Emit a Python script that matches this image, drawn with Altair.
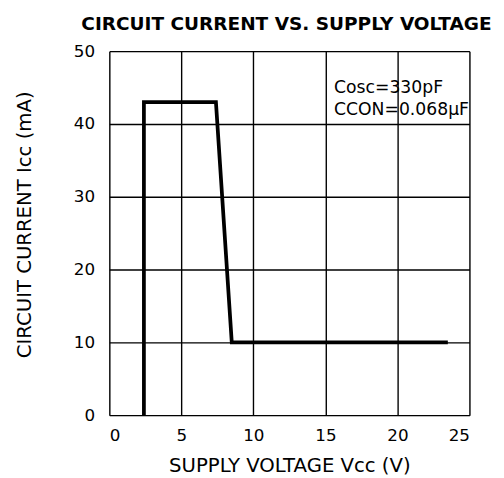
import altair as alt
import pandas as pd

# Curve: circuit current vs supply voltage
voltage = [2.4, 2.4, 7.4, 8.5, 23.5]
current = [0, 43, 43, 10, 10]

note_x = [15.6, 15.6]
note_y = [44.2, 41.2]
note_text = ["Cosc=330pF", "CCON=0.068\u03bcF"]

x_ticks = [0, 5, 10, 15, 20, 25]
y_ticks = [0, 10, 20, 30, 40, 50]

curve_df = pd.DataFrame({"v": voltage, "i": current, "order": list(range(len(voltage)))})
note_df = pd.DataFrame({"v": note_x, "i": note_y, "t": note_text})

FONT = "DejaVu Sans"

x_scale = alt.Scale(domain=[0, 25], nice=False, zero=False)
y_scale = alt.Scale(domain=[0, 50], nice=False, zero=False)

x_axis = alt.Axis(
    values=x_ticks, title="SUPPLY VOLTAGE Vcc (V)", grid=True, domain=False,
    ticks=False, tickSize=0, labelPadding=13, labelFontSize=17, labelFont=FONT,
    labelColor="black", titleFont=FONT, titleFontSize=20, titleFontWeight="normal",
    titleColor="black", titleBaseline="alphabetic", titleY=57, titleAnchor="middle",
    gridColor="black", gridWidth=1.4, gridOpacity=1,
)
y_axis = alt.Axis(
    values=y_ticks, title="CIRCUIT CURRENT Icc (mA)", grid=True, domain=False,
    ticks=False, tickSize=0, labelPadding=15, labelFontSize=17, labelFont=FONT,
    labelColor="black", titleFont=FONT, titleFontSize=20, titleFontWeight="normal",
    titleColor="black", titleAngle=-90, titleBaseline="alphabetic", titleAlign="center",
    titleX=-80, titleY=176, gridColor="black", gridWidth=1.4, gridOpacity=1,
)

line = alt.Chart(curve_df).mark_line(color="black", strokeWidth=3.8, strokeJoin="miter").encode(
    x=alt.X("v:Q", scale=x_scale, axis=x_axis),
    y=alt.Y("i:Q", scale=y_scale, axis=y_axis),
    order="order:Q",
)

notes = alt.Chart(note_df).mark_text(
    align="left", baseline="alphabetic", font=FONT, fontSize=17.5, color="black"
).encode(
    x=alt.X("v:Q", scale=x_scale),
    y=alt.Y("i:Q", scale=y_scale),
    text="t:N",
)

chart = alt.layer(line, notes).properties(
    width=366,
    height=370,
    autosize=alt.AutoSizeParams(type="none"),
    padding={"left": 103, "top": 40, "right": 27, "bottom": 60},
    title=alt.TitleParams(
        text="CIRCUIT CURRENT VS. SUPPLY VOLTAGE", font=FONT, fontSize=18.8,
        fontWeight="bold", color="black", anchor="middle", frame="group",
        baseline="alphabetic", offset=-6, dx=-3,
    ),
).configure_view(stroke="black", strokeWidth=3).configure(background="white")

chart.save("out.html", embed_options={"renderer": "svg", "actions": False})
